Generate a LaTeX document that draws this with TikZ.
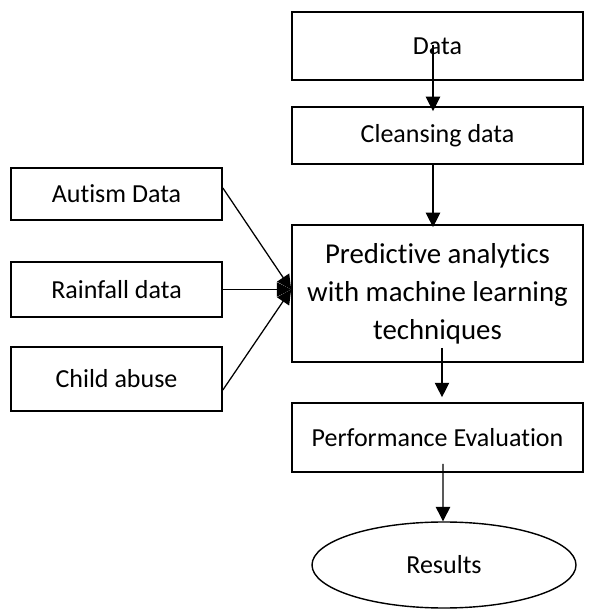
\documentclass[tikz,border=0pt]{standalone}
\usepackage{fontspec}
\setmainfont{Carlito}[Ligatures={NoCommon}]
\usepackage{tikz}
\usetikzlibrary{positioning, arrows.meta, shapes.geometric}

\begin{document}
\begin{tikzpicture}[
    font=\fontsize{18.5}{22}\selectfont,
    box/.style={draw, line width=1.2pt, inner sep=0pt, minimum width=7.275cm},
    src/.style={draw, line width=1.2pt, inner sep=0pt, minimum width=5.275cm},
    arr/.style={line width=0.9pt, -{Triangle[length=0.36cm, width=0.36cm]}},
]
\useasboundingbox (0,0) rectangle (14.775,15.25);

% --- main pipeline ---
\node[box, minimum height=1.7cm] (data) at (10.9375,14.1) {Data};
\node[box, minimum height=1.425cm] (cleanse) at (10.9375,11.8625) {Cleansing data};
\node[box, minimum height=3.425cm, align=center,
      font=\fontsize{20.5}{27}\selectfont] (predict) at (10.9375,7.9125)
    {Predictive analytics\\with machine learning\\techniques};
\node[box, minimum height=1.725cm] (perf) at (10.9375,4.3125) {Performance Evaluation};
\node[draw, ellipse, line width=1pt, inner sep=0pt, minimum width=6.6cm,
      minimum height=2.15cm] (results) at (11.1,1.125) {Results};

% --- input sources ---
\node[src, minimum height=1.3cm] (autism) at (2.9125,10.4) {Autism Data};
\node[src, minimum height=1.375cm] (rain) at (2.9125,8.0125) {Rainfall data};
\node[src, minimum height=1.6cm] (abuse) at (2.9125,5.775) {Child abuse};

\coordinate (join) at (predict.west |- rain.east);

% arrows down the pipeline
\draw[arr] ([xshift=-0.1125cm, yshift=0.025cm]data.center) -- ([xshift=-0.1125cm, yshift=-0.125cm]cleanse.north);
\draw[arr] ([xshift=-0.1125cm]cleanse.south) -- ([xshift=-0.1125cm, yshift=-0.075cm]predict.north);
\draw[arr] ([xshift=0.1125cm, yshift=0.375cm]predict.south) -- ([xshift=0.1125cm, yshift=0.125cm]perf.north);
\draw[arr] ([xshift=0.1375cm, yshift=0.225cm]perf.south) -- ([xshift=-0.025cm]results.north);

% sources into the model
\draw[arr] ([yshift=0.15cm]autism.east) -- (join);
\draw[arr] (rain.east) -- (join);
\draw[arr] ([yshift=-0.275cm]abuse.east) -- (join);

\end{tikzpicture}
\end{document}
